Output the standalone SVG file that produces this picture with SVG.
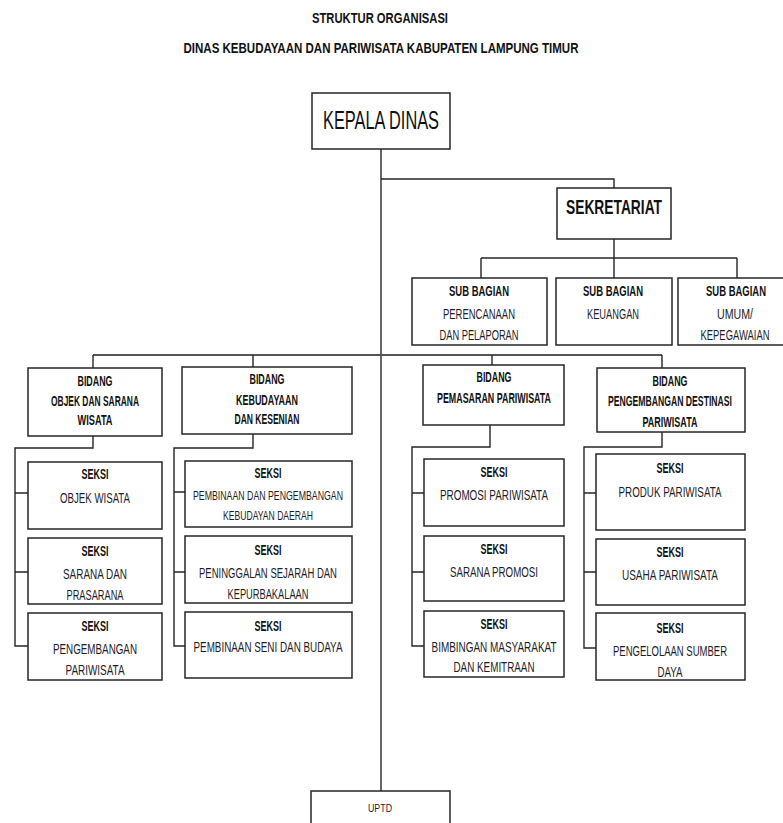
<svg xmlns="http://www.w3.org/2000/svg" width="783" height="823" viewBox="0 0 783 823">
<style>
text{font-family:"Liberation Sans",Arial,sans-serif;text-anchor:middle;fill:#111}
.t{font-weight:bold;font-size:15.5px}
.h{font-weight:bold;font-size:14px}
.n{font-size:14px;fill:#1c1c2c}
.box{fill:#fff;stroke:#262626;stroke-width:1.5}
.c{fill:none;stroke:#262626;stroke-width:1.4}
</style>
<rect width="783" height="823" fill="#fff"/>
<g id="title">
<text class="t" x="380" y="23" textLength="136" lengthAdjust="spacingAndGlyphs">STRUKTUR ORGANISASI</text>
<text class="t" x="381" y="53" textLength="395" lengthAdjust="spacingAndGlyphs">DINAS KEBUDAYAAN DAN PARIWISATA KABUPATEN LAMPUNG TIMUR</text>
</g>
<g id="connectors">
<path class="c" d="M381 149V791"/>
<path class="c" d="M381 179H614V188"/>
<path class="c" d="M614 239V258M481 258H737M481 258V278M614 258V278M737 258V278"/>
<path d="M93 355H662" fill="none" stroke="#555" stroke-width="1.8"/>
<path class="c" d="M93 355V368M253 355V367M492 355V365M662 355V368"/>
<path class="c" d="M93 436V448H15V646H28M15 493H28M15 572H28"/>
<path class="c" d="M253 434V448H174V646H185M174 492H185M174 572H185"/>
<path class="c" d="M490 425V447H412V646H424M412 493H424M412 572H424"/>
<path class="c" d="M662 432V447H584V648H596M584 493H596M584 572H596"/>
</g>
<g id="kepala-dinas">
<rect class="box" x="312" y="93" width="138" height="56"/>
<text x="381" y="129" style="font-size:25px" textLength="116" lengthAdjust="spacingAndGlyphs">KEPALA DINAS</text>
</g>
<g id="sekretariat">
<rect class="box" x="557" y="188" width="114" height="51"/>
<text x="614" y="214" style="font-size:21px;font-weight:bold" textLength="96" lengthAdjust="spacingAndGlyphs">SEKRETARIAT</text>
</g>
<g id="sub-perencanaan">
<rect class="box" x="412" y="278" width="135" height="67"/>
<text class="h" x="479" y="296" textLength="60" lengthAdjust="spacingAndGlyphs">SUB BAGIAN</text>
<text class="n" x="479" y="319" textLength="72" lengthAdjust="spacingAndGlyphs">PERENCANAAN</text>
<text class="n" x="479" y="340" textLength="79" lengthAdjust="spacingAndGlyphs">DAN PELAPORAN</text>
</g>
<g id="sub-keuangan">
<rect class="box" x="556" y="278" width="116" height="67"/>
<text class="h" x="613" y="296" textLength="60" lengthAdjust="spacingAndGlyphs">SUB BAGIAN</text>
<text class="n" x="613" y="319" textLength="52" lengthAdjust="spacingAndGlyphs">KEUANGAN</text>
</g>
<g id="sub-umum">
<rect class="box" x="678" y="278" width="110" height="67"/>
<text class="h" x="736" y="296" textLength="60" lengthAdjust="spacingAndGlyphs">SUB BAGIAN</text>
<text class="n" x="735" y="319" textLength="36" lengthAdjust="spacingAndGlyphs">UMUM/</text>
<text class="n" x="735" y="340" textLength="69" lengthAdjust="spacingAndGlyphs">KEPEGAWAIAN</text>
</g>
<g id="bidang-objek">
<rect class="box" x="28" y="368" width="134" height="68"/>
<text class="h" x="95" y="386" textLength="35" lengthAdjust="spacingAndGlyphs">BIDANG</text>
<text class="h" x="95" y="406" textLength="88" lengthAdjust="spacingAndGlyphs">OBJEK DAN SARANA</text>
<text class="h" x="95" y="425" textLength="35" lengthAdjust="spacingAndGlyphs">WISATA</text>
</g>
<g id="bidang-kebudayaan">
<rect class="box" x="182" y="367" width="170" height="67"/>
<text class="h" x="267" y="384" textLength="35" lengthAdjust="spacingAndGlyphs">BIDANG</text>
<text class="h" x="267" y="405" textLength="62" lengthAdjust="spacingAndGlyphs">KEBUDAYAAN</text>
<text class="h" x="267" y="424" textLength="65" lengthAdjust="spacingAndGlyphs">DAN KESENIAN</text>
</g>
<g id="bidang-pemasaran">
<rect class="box" x="423" y="365" width="141" height="60"/>
<text class="h" x="494" y="382" textLength="35" lengthAdjust="spacingAndGlyphs">BIDANG</text>
<text class="h" x="494" y="403" textLength="114" lengthAdjust="spacingAndGlyphs">PEMASARAN PARIWISATA</text>
</g>
<g id="bidang-destinasi">
<rect class="box" x="597" y="368" width="148" height="64"/>
<text class="h" x="670" y="386" textLength="35" lengthAdjust="spacingAndGlyphs">BIDANG</text>
<text class="h" x="670" y="406" textLength="124" lengthAdjust="spacingAndGlyphs">PENGEMBANGAN DESTINASI</text>
<text class="h" x="670" y="427" textLength="55" lengthAdjust="spacingAndGlyphs">PARIWISATA</text>
</g>
<g id="seksi-objek-wisata">
<rect class="box" x="28" y="462" width="134" height="67"/>
<text class="h" x="95" y="479" textLength="27" lengthAdjust="spacingAndGlyphs">SEKSI</text>
<text class="n" x="95" y="503" textLength="70" lengthAdjust="spacingAndGlyphs">OBJEK WISATA</text>
</g>
<g id="seksi-sarana-prasarana">
<rect class="box" x="28" y="538" width="134" height="66"/>
<text class="h" x="95" y="556" textLength="27" lengthAdjust="spacingAndGlyphs">SEKSI</text>
<text class="n" x="95" y="579" textLength="64" lengthAdjust="spacingAndGlyphs">SARANA DAN</text>
<text class="n" x="95" y="600" textLength="57" lengthAdjust="spacingAndGlyphs">PRASARANA</text>
</g>
<g id="seksi-pengembangan-pariwisata">
<rect class="box" x="28" y="613" width="134" height="67"/>
<text class="h" x="95" y="631" textLength="27" lengthAdjust="spacingAndGlyphs">SEKSI</text>
<text class="n" x="95" y="654" textLength="84" lengthAdjust="spacingAndGlyphs">PENGEMBANGAN</text>
<text class="n" x="95" y="675" textLength="59" lengthAdjust="spacingAndGlyphs">PARIWISATA</text>
</g>
<g id="seksi-pembinaan-kebudayaan">
<rect class="box" x="185" y="461" width="167" height="66"/>
<text class="h" x="268" y="478" textLength="27" lengthAdjust="spacingAndGlyphs">SEKSI</text>
<text class="n" x="268" y="500" style="font-size:13px" textLength="150" lengthAdjust="spacingAndGlyphs">PEMBINAAN DAN PENGEMBANGAN</text>
<text class="n" x="268" y="520" style="font-size:13px" textLength="90" lengthAdjust="spacingAndGlyphs">KEBUDAYAN DAERAH</text>
</g>
<g id="seksi-peninggalan-sejarah">
<rect class="box" x="185" y="536" width="167" height="67"/>
<text class="h" x="268" y="555" textLength="27" lengthAdjust="spacingAndGlyphs">SEKSI</text>
<text class="n" x="268" y="578" textLength="138" lengthAdjust="spacingAndGlyphs">PENINGGALAN SEJARAH DAN</text>
<text class="n" x="268" y="599" textLength="81" lengthAdjust="spacingAndGlyphs">KEPURBAKALAAN</text>
</g>
<g id="seksi-seni-budaya">
<rect class="box" x="185" y="612" width="167" height="66"/>
<text class="h" x="268" y="631" textLength="27" lengthAdjust="spacingAndGlyphs">SEKSI</text>
<text class="n" x="268" y="652" textLength="149" lengthAdjust="spacingAndGlyphs">PEMBINAAN SENI DAN BUDAYA</text>
</g>
<g id="seksi-promosi-pariwisata">
<rect class="box" x="424" y="459" width="140" height="67"/>
<text class="h" x="494" y="477" textLength="27" lengthAdjust="spacingAndGlyphs">SEKSI</text>
<text class="n" x="494" y="500" textLength="108" lengthAdjust="spacingAndGlyphs">PROMOSI PARIWISATA</text>
</g>
<g id="seksi-sarana-promosi">
<rect class="box" x="424" y="536" width="140" height="65"/>
<text class="h" x="494" y="554" textLength="27" lengthAdjust="spacingAndGlyphs">SEKSI</text>
<text class="n" x="494" y="577" textLength="88" lengthAdjust="spacingAndGlyphs">SARANA PROMOSI</text>
</g>
<g id="seksi-bimbingan-masyarakat">
<rect class="box" x="424" y="611" width="140" height="66"/>
<text class="h" x="494" y="629" textLength="27" lengthAdjust="spacingAndGlyphs">SEKSI</text>
<text class="n" x="494" y="652" textLength="125" lengthAdjust="spacingAndGlyphs">BIMBINGAN MASYARAKAT</text>
<text class="n" x="494" y="672" textLength="81" lengthAdjust="spacingAndGlyphs">DAN KEMITRAAN</text>
</g>
<g id="seksi-produk-pariwisata">
<rect class="box" x="596" y="454" width="149" height="76"/>
<text class="h" x="670" y="473" textLength="27" lengthAdjust="spacingAndGlyphs">SEKSI</text>
<text class="n" x="670" y="497" textLength="103" lengthAdjust="spacingAndGlyphs">PRODUK PARIWISATA</text>
</g>
<g id="seksi-usaha-pariwisata">
<rect class="box" x="596" y="539" width="149" height="66"/>
<text class="h" x="670" y="557" textLength="27" lengthAdjust="spacingAndGlyphs">SEKSI</text>
<text class="n" x="670" y="580" textLength="96" lengthAdjust="spacingAndGlyphs">USAHA PARIWISATA</text>
</g>
<g id="seksi-pengelolaan-sumber-daya">
<rect class="box" x="596" y="613" width="149" height="67"/>
<text class="h" x="670" y="633" textLength="27" lengthAdjust="spacingAndGlyphs">SEKSI</text>
<text class="n" x="670" y="656" textLength="114" lengthAdjust="spacingAndGlyphs">PENGELOLAAN SUMBER</text>
<text class="n" x="670" y="677" textLength="25" lengthAdjust="spacingAndGlyphs">DAYA</text>
</g>
<g id="uptd">
<rect class="box" x="311" y="791" width="139" height="40"/>
<text x="380" y="812" style="font-size:11px;fill:#1c1c2c" textLength="24" lengthAdjust="spacingAndGlyphs">UPTD</text>
</g>
</svg>
